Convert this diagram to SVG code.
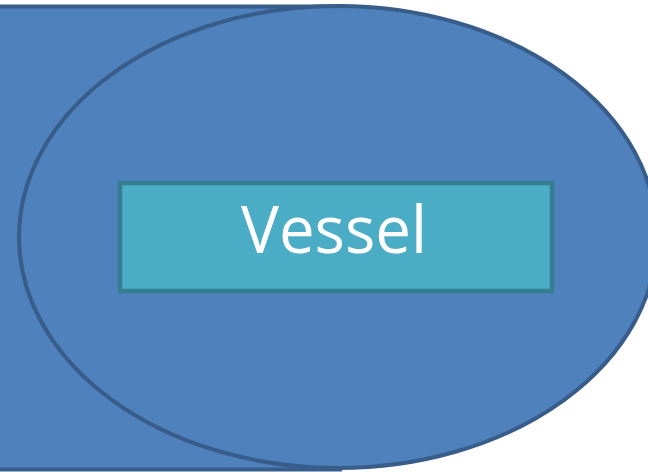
<svg xmlns="http://www.w3.org/2000/svg" width="648" height="472" viewBox="0 0 648 472">
  <style>
    .shape { fill: #4F81BD; stroke: #385D8A; stroke-width: 4; }
    .box { fill: #4BACC6; stroke: #357D91; stroke-width: 4.5; }
    .label { fill: #FFFFFF; font-family: "Open Sans", "Liberation Sans", sans-serif; font-size: 66px; text-anchor: middle; }
  </style>
  <rect width="648" height="472" fill="#FFFFFF"/>
  <!-- rectangular body behind the ellipse -->
  <g id="body">
    <rect class="shape" x="-10" y="6.5" width="350" height="463"/>
  </g>
  <!-- elliptical outline in front -->
  <g id="ellipse">
    <ellipse class="shape" cx="338" cy="237" rx="319" ry="231"/>
  </g>
  <g id="vessel">
    <rect class="box" x="120" y="183" width="432" height="108"/>
    <text class="label" x="334" y="253" textLength="186" lengthAdjust="spacingAndGlyphs">Vessel</text>
  </g>
  <g id="connectors"/>
</svg>
